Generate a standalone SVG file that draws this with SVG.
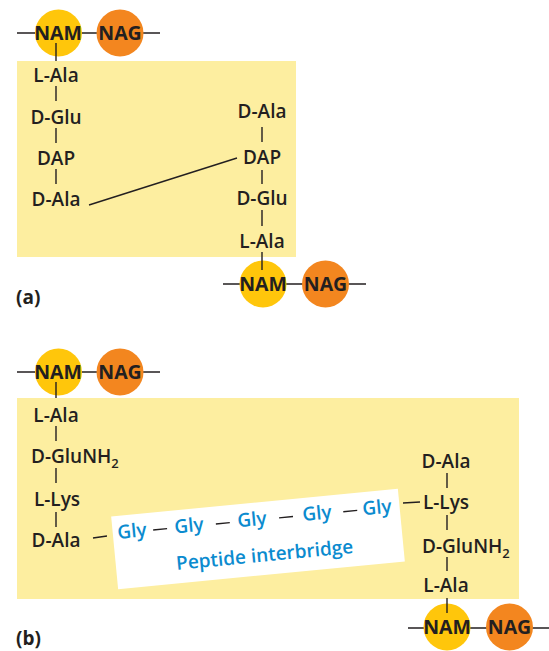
<svg xmlns="http://www.w3.org/2000/svg" width="549" height="651" viewBox="0 0 549 651">
<style>
.lbl{font-family:"Open Sans","Liberation Sans",sans-serif;font-size:19px;font-weight:600;fill:#231f20;text-anchor:middle}
.lbs{text-anchor:start}
.sub{font-size:13px}
.sug{font-family:"Open Sans","Liberation Sans",sans-serif;font-size:19.5px;font-weight:700;fill:#231f20;text-anchor:middle}
.gly{font-family:"Open Sans","Liberation Sans",sans-serif;font-size:19px;font-weight:600;fill:#0b8bcf;text-anchor:middle}
.ln{stroke:#231f20;stroke-width:1.4;fill:none}
.nam{fill:#ffc60b}
.nag{fill:#f3861f}
.box{fill:#fdeea0}
.cap{font-family:"Open Sans","Liberation Sans",sans-serif;font-size:19px;font-weight:700;fill:#231f20}
</style>
<rect id="boxA" class="box" x="17" y="61" width="279" height="196"/>
<rect id="boxB" class="box" x="17" y="398" width="502" height="201"/>
<g id="connectors">
<path class="ln" d="M17 33H160M223 284H366M17 372H160M408 628H549"/>
<path class="ln" d="M56 86V101M56 128V143M56 169V184"/>
<path class="ln" d="M262 127V142M262 170V184M262 210V226"/>
<path class="ln" d="M89 205L237 158"/>
<path class="ln" d="M56 426V441M56 468V483M56 512V527"/>
<path class="ln" d="M447 473V488M447 515V530M447 557V571"/>
<path class="ln" d="M93 538L107 536M403 503L420 502"/>
</g>
<g id="sugarsA1"><circle class="nam" cx="58.5" cy="33" r="23.5"/><circle class="nag" cx="120" cy="33" r="23.5"/><path class="ln" d="M56 43V61"/><text class="sug" x="58" y="40">NAM</text><text class="sug" x="120" y="40">NAG</text></g>
<g id="sugarsA2"><circle class="nam" cx="263" cy="284" r="23.5"/><circle class="nag" cx="325.5" cy="284" r="23.5"/><path class="ln" d="M262 252V270"/><text class="sug" x="263" y="291">NAM</text><text class="sug" x="325.5" y="291">NAG</text></g>
<g id="sugarsB1"><circle class="nam" cx="58.5" cy="372" r="23.5"/><circle class="nag" cx="120" cy="372" r="23.5"/><path class="ln" d="M56 382V398"/><text class="sug" x="58" y="379">NAM</text><text class="sug" x="120" y="379">NAG</text></g>
<g id="sugarsB2"><circle class="nam" cx="447" cy="627" r="23.5"/><circle class="nag" cx="509.5" cy="627" r="23.5"/><path class="ln" d="M447 598V613"/><text class="sug" x="447" y="634">NAM</text><text class="sug" x="509.5" y="634">NAG</text></g>
<g id="peptideA1">
<text class="lbl" x="56" y="82">L-Ala</text>
<text class="lbl" x="56" y="124">D-Glu</text>
<text class="lbl" x="56" y="165">DAP</text>
<text class="lbl" x="56" y="206">D-Ala</text>
</g>
<g id="peptideA2">
<text class="lbl" x="262" y="118">D-Ala</text>
<text class="lbl" x="262" y="164">DAP</text>
<text class="lbl" x="262" y="205">D-Glu</text>
<text class="lbl" x="262" y="248">L-Ala</text>
</g>
<g id="peptideB1">
<text class="lbl" x="56" y="422">L-Ala</text>
<text class="lbl lbs" x="31" y="463">D-GluNH<tspan class="sub" dy="5">2</tspan></text>
<text class="lbl" x="57" y="505.5">L-Lys</text>
<text class="lbl" x="56" y="547">D-Ala</text>
</g>
<g id="peptideB2">
<text class="lbl" x="446" y="468">D-Ala</text>
<text class="lbl" x="446" y="509">L-Lys</text>
<text class="lbl lbs" x="422" y="553">D-GluNH<tspan class="sub" dy="5">2</tspan></text>
<text class="lbl" x="446" y="592">L-Ala</text>
</g>
<g id="interbridge" transform="rotate(-5.5 258 539)">
<rect x="114" y="502.5" width="288" height="73" fill="#fff"/>
<text class="gly" x="133.4" y="525.5">Gly</text>
<text class="gly" x="190.5" y="525.5">Gly</text>
<text class="gly" x="253.8" y="525.5">Gly</text>
<text class="gly" x="319.2" y="525.5">Gly</text>
<text class="gly" x="379.5" y="525.5">Gly</text>
<path class="ln" d="M154.5 520H168.5M217.5 520H231.5M281 520H295M345.5 520H359.5"/>
<text class="gly" x="263" y="562">Peptide interbridge</text>
</g>
<text class="cap" x="16" y="304">(a)</text>
<text class="cap" x="16" y="645">(b)</text>
</svg>
